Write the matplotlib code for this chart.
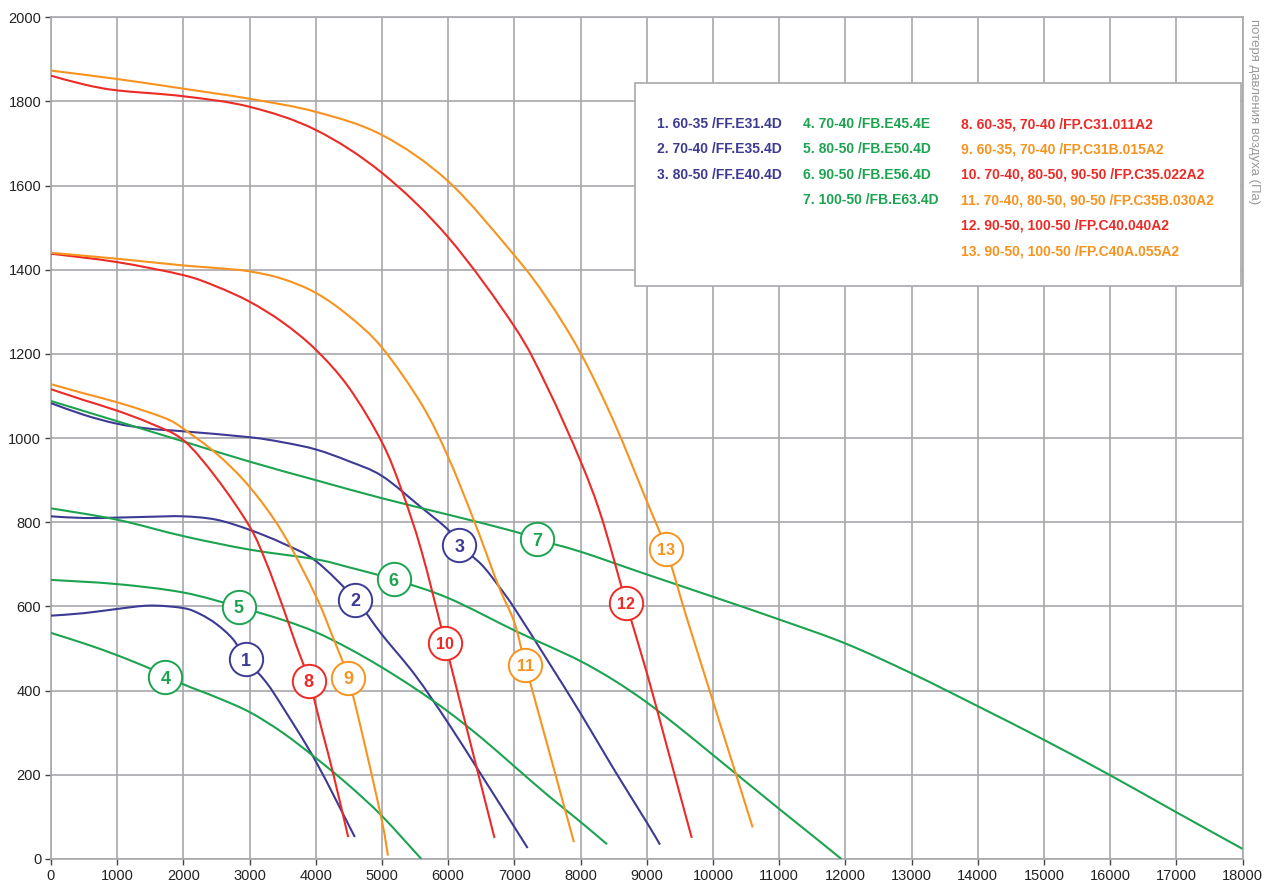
# fan_curves.py
# Pressure / airflow curves for the FF, FB and FP fan series

import matplotlib
matplotlib.use("Agg")
import matplotlib.pyplot as plt
from matplotlib.patches import Rectangle, PathPatch
from matplotlib.path import Path

plt.rcParams["font.family"] = ["Liberation Sans", "DejaVu Sans"]

# ---------------------------------------------------------------------
# Curve data (airflow, pressure loss in Pa)
# ---------------------------------------------------------------------
c1_x = [0, 500, 1000, 1500, 2000, 2250, 2500, 2750, 2950, 3250, 3500, 4000, 4590]
c1_y = [578, 584, 594, 602, 596, 582, 558, 522, 474, 420, 361, 232, 52]

c2_x = [0, 500, 1000, 1500, 2000, 2500, 3000, 3500, 4000, 4600, 5000, 5500, 6000, 6500, 7000, 7200]
c2_y = [814, 810, 811, 813, 814, 806, 782, 750, 708, 616, 533, 437, 323, 200, 76, 26]

c3_x = [0, 500, 1000, 1500, 2000, 3000, 3500, 4000, 4500, 5000, 5580, 6000, 6170, 6500, 6760,
        7000, 7500, 8000, 8500, 9000, 9200]
c3_y = [1083, 1055, 1034, 1022, 1016, 1002, 990, 973, 945, 910, 837, 782, 745, 700, 649,
        596, 472, 346, 214, 87, 34]

c4_x = [0, 500, 1000, 1500, 2000, 2500, 3000, 3500, 4000, 4500, 5000, 5595]
c4_y = [537, 512, 484, 452, 415, 384, 349, 300, 240, 175, 102, 0]

c5_x = [0, 1000, 2000, 2833, 3500, 4000, 4500, 5000, 5500, 6000, 6500, 7000, 7500, 8000, 8400]
c5_y = [663, 653, 633, 599, 568, 539, 500, 455, 405, 350, 288, 220, 152, 88, 35]

c6_x = [0, 1000, 2000, 3000, 4000, 4500, 5180, 6000, 7000, 7500, 8000, 8500, 9000, 9500,
        10000, 10500, 11000, 11500, 11940]
c6_y = [833, 806, 767, 735, 712, 693, 664, 620, 543, 507, 470, 425, 372, 311,
        247, 183, 119, 56, 0]

c7_x = [0, 1000, 2000, 3000, 4000, 5000, 6000, 7000, 7341, 8000, 9000, 10000, 11000, 12000,
        13000, 14000, 15000, 16000, 17000, 18000]
c7_y = [1088, 1040, 992, 944, 900, 857, 818, 778, 759, 730, 676, 623, 569, 512,
        441, 363, 283, 199, 111, 24]

c8_x = [0, 500, 1000, 1500, 2000, 2500, 3000, 3250, 3500, 3700, 3900, 4100, 4260, 4490]
c8_y = [1116, 1090, 1065, 1035, 995, 905, 790, 705, 600, 510, 423, 302, 205, 52]

c9_x = [0, 500, 1000, 1500, 1800, 2000, 2500, 3000, 3500, 4000, 4250, 4490, 4750, 5000, 5090]
c9_y = [1128, 1106, 1085, 1060, 1042, 1022, 963, 884, 775, 625, 530, 430, 265, 90, 8]

c10_x = [0, 1000, 2000, 2500, 3000, 3500, 4000, 4500, 5000, 5300, 5600, 5955, 6200, 6450, 6700]
c10_y = [1438, 1418, 1387, 1360, 1324, 1275, 1210, 1120, 990, 875, 730, 513, 360, 205, 50]

c11_x = [0, 1000, 2000, 2500, 3000, 3500, 4000, 4500, 5000, 5600, 6000, 6400, 6760, 7000,
         7165, 7500, 7900]
c11_y = [1440, 1426, 1410, 1404, 1396, 1378, 1345, 1290, 1215, 1080, 955, 800, 649, 562,
         462, 270, 40]

c12_x = [0, 500, 1000, 2000, 3000, 4000, 5000, 6000, 7000, 7500, 8000, 8320, 8690, 9000,
         9300, 9680]
c12_y = [1861, 1840, 1826, 1812, 1787, 1732, 1630, 1477, 1265, 1120, 945, 810, 607, 443,
         270, 50]

c13_x = [0, 1000, 2000, 3000, 4000, 5000, 6000, 7000, 7500, 8000, 8500, 9000, 9290, 9600,
         10000, 10300, 10600]
c13_y = [1873, 1853, 1830, 1806, 1775, 1720, 1610, 1434, 1330, 1202, 1040, 850, 737, 575,
         375, 225, 75]

# circle markers carrying the curve number
label_x = [2950, 4600, 6170, 1730, 2833, 5177, 7341, 3896, 4486, 5955, 7165, 8690, 9290]
label_y = [474, 616, 745, 432, 599, 664, 759, 423, 430, 513, 462, 607, 737]

legend_text = [
    "1. 60-35 /FF.E31.4D",
    "2. 70-40 /FF.E35.4D",
    "3. 80-50 /FF.E40.4D",
    "4. 70-40 /FB.E45.4E",
    "5. 80-50 /FB.E50.4D",
    "6. 90-50 /FB.E56.4D",
    "7. 100-50 /FB.E63.4D",
    "8. 60-35, 70-40 /FP.C31.011A2",
    "9. 60-35, 70-40 /FP.C31B.015A2",
    "10. 70-40, 80-50, 90-50 /FP.C35.022A2",
    "11. 70-40, 80-50, 90-50 /FP.C35B.030A2",
    "12. 90-50, 100-50 /FP.C40.040A2",
    "13. 90-50, 100-50 /FP.C40A.055A2",
]

BLUE = "#3d3a94"
GREEN = "#1ca350"
RED = "#ec2a26"
ORANGE = "#f7931e"

curve_colors = [BLUE, BLUE, BLUE, GREEN, GREEN, GREEN, GREEN,
                RED, ORANGE, RED, ORANGE, RED, ORANGE]

GRID = "#a8a8ad"


def smooth_path(xs, ys) -> Path:
    """Catmull-Rom style Bezier path passing through every given point."""
    pts = list(zip(xs, ys))
    n = len(pts)
    verts = [pts[0]]
    codes = [Path.MOVETO]
    for i in range(n - 1):
        p0 = pts[i - 1] if i > 0 else pts[i]
        p1 = pts[i]
        p2 = pts[i + 1]
        p3 = pts[i + 2] if i + 2 < n else pts[i + 1]
        c1 = (p1[0] + (p2[0] - p0[0]) / 6, p1[1] + (p2[1] - p0[1]) / 6)
        c2 = (p2[0] - (p3[0] - p1[0]) / 6, p2[1] - (p3[1] - p1[1]) / 6)
        verts += [c1, c2, p2]
        codes += [Path.CURVE4] * 3
    return Path(verts, codes)


def main() -> None:
    curves = [
        (c1_x, c1_y), (c2_x, c2_y), (c3_x, c3_y), (c4_x, c4_y), (c5_x, c5_y),
        (c6_x, c6_y), (c7_x, c7_y), (c8_x, c8_y), (c9_x, c9_y), (c10_x, c10_y),
        (c11_x, c11_y), (c12_x, c12_y), (c13_x, c13_y),
    ]

    fig = plt.figure(figsize=(12.71, 8.88), dpi=100)
    ax = fig.add_axes([0.0401, 0.0327, 0.9375, 0.948])

    for (xs, ys), col in zip(curves, curve_colors):
        ax.add_patch(PathPatch(smooth_path(xs, ys), fill=False, edgecolor=col,
                               lw=1.5, zorder=4, capstyle="butt"))

    # numbered circles on the curves
    for i, (lx, ly) in enumerate(zip(label_x, label_y)):
        col = curve_colors[i]
        ax.plot(lx, ly, "o", ms=24, mfc="white", mec=col, mew=1.4, zorder=6)
        num = str(i + 1)
        ax.text(lx, ly, num, color=col, fontsize=13 if len(num) == 1 else 11.5,
                fontweight="bold", ha="center", va="center_baseline", zorder=7)

    ax.set_xlim(0, 18000)
    ax.set_ylim(0, 2000)
    ax.set_xticks(range(0, 18001, 1000))
    ax.set_yticks(range(0, 2001, 200))
    ax.grid(True, color=GRID, lw=1.2, zorder=1)
    ax.set_axisbelow(True)
    for sp in ax.spines.values():
        sp.set_color(GRID)
        sp.set_linewidth(1.2)
    ax.tick_params(axis="both", direction="out", length=4, width=1, color="#444444",
                   labelsize=10.5, labelcolor="#222222", pad=3)

    # legend panel
    ax.add_patch(Rectangle((0.4901, 0.6807), 0.9986 - 0.4901, 0.9218 - 0.6807,
                           transform=ax.transAxes, facecolor="white",
                           edgecolor=GRID, lw=1.2, zorder=3))
    col_x = [0.5086, 0.6310, 0.7637]
    groups = [(0, 3, 0), (3, 7, 1), (7, 13, 2)]
    for start, stop, c in groups:
        for row, idx in enumerate(range(start, stop)):
            ax.text(col_x[c], 0.873 - row * 0.0302, legend_text[idx],
                    transform=ax.transAxes, color=curve_colors[idx],
                    fontsize=10, fontweight="bold", ha="left", va="center", zorder=5)

    ax.text(1.0045, 0.998, "потеря давления воздуха (Па)", transform=ax.transAxes,
            rotation=270, color="#9a9a9a", fontsize=9.5, ha="left", va="top")

    fig.savefig("out.png", dpi=100, facecolor="white")
    plt.close(fig)


if __name__ == "__main__":
    main()
